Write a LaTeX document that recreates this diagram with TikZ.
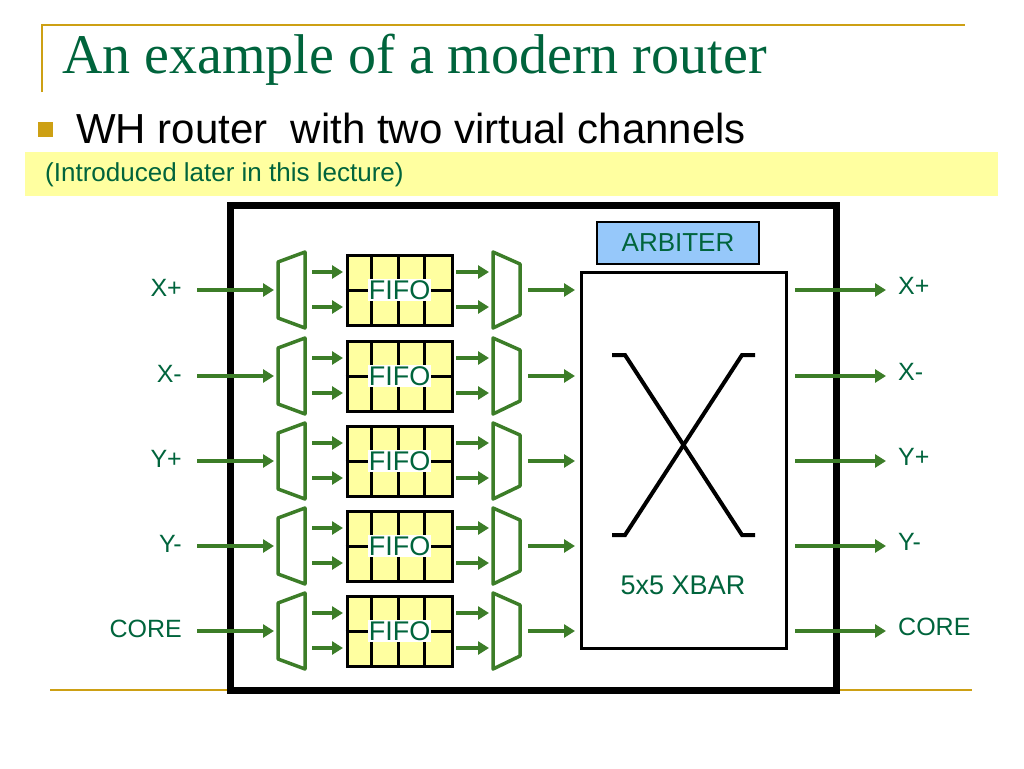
\documentclass[tikz,border=0pt]{standalone}
\usepackage{fontspec}
\setmainfont{Liberation Sans}
\newfontfamily\titlefont{Liberation Serif}
\usetikzlibrary{arrows.meta,calc}
\definecolor{ttgreen}{RGB}{0,100,60}
\definecolor{argreen}{RGB}{60,125,40}
\definecolor{gold}{RGB}{205,160,20}
\definecolor{fifoyel}{RGB}{255,255,160}
\definecolor{band}{RGB}{255,255,160}
\definecolor{arbblue}{RGB}{150,200,250}
\tikzset{
    arr/.style={draw=argreen,line width=3.5pt,-{Triangle[length=11pt,width=13pt]}},
    trap/.style={draw=argreen,line width=3.5pt,line join=round},
    lbl/.style={text=ttgreen,font=\fontsize{25}{25}\selectfont,inner sep=0pt},
    fifo/.style={draw=black,line width=3pt,fill=fifoyel},
}
\begin{document}
\begin{tikzpicture}[x=1pt,y=-1pt]
\useasboundingbox (0,0) rectangle (1024,768);
% header
\draw[gold,line width=2pt] (42,92) -- (42,25) -- (965,25);
\node[anchor=west,inner sep=0pt,text=ttgreen,font=\titlefont\fontsize{56}{56}\selectfont] (title) at (62,60) {An example of a modern router};
\fill[gold] (38,122) rectangle (53,137);
\node[anchor=west,inner sep=0pt,font=\fontsize{42}{42}\selectfont] (sub) at (76,128) {WH router\ \ with two virtual channels};
\fill[band] (25,152) rectangle (998,196);
\node[anchor=west,inner sep=0pt,text=ttgreen,font=\fontsize{26}{26}\selectfont] (note) at (45,175) {(Introduced later in this lecture)};
\draw[gold,line width=2pt] (50,690) -- (972,690);
% router box
\draw[line width=7pt,fill=white] (230,205) rectangle (836,690);
\node[draw,line width=2pt,fill=arbblue,minimum width=162pt,minimum height=42pt,inner sep=0pt,text=ttgreen,font=\fontsize{26}{26}\selectfont] (arb) at (678,243) {ARBITER};
\node[draw,line width=3pt,minimum width=205pt,minimum height=376pt] (xbar) at (683.5,460) {};
\node[lbl,font=\fontsize{27}{27}\selectfont] (xbarlbl) at (683,585) {5x5 XBAR};
\draw[line width=4pt] (612,355) -- (625,355) -- (742,535) -- (755,535);
\draw[line width=4pt] (755,355) -- (742,355) -- (625,535) -- (612,535);
% ports
\foreach \i/\lab/\y in {1/X+/290,2/X-/376,3/Y+/461,4/Y-/546,5/CORE/631}{
    \node[lbl,anchor=east] (in\i) at (182,\y-2) {\lab};
    \coordinate (ins\i) at (197,\y);
    \coordinate (ine\i) at (274,\y);
    \draw[trap] (278,\y-28) -- (305,\y-38) -- (305,\y+38) -- (278,\y+28) -- cycle;
    \draw[trap] (493,\y-38) -- (520,\y-26) -- (520,\y+25) -- (493,\y+38) -- cycle;
    \node[fifo,minimum width=105pt,minimum height=70pt,inner sep=0pt] (f\i) at (399.5,\y) {};
    \foreach \c in {1,2,3} \draw[line width=3pt] ($(f\i.west)+(\c*26.25,-35)$) -- ++(0,70);
    \draw[line width=3pt] (f\i.west) -- (f\i.east);
    \node[fill=white,inner sep=1pt,text=ttgreen,font=\fontsize{27}{27}\selectfont] (fl\i) at (f\i) {FIFO};
    \draw[arr] (ins\i) -- (ine\i);
    \draw[arr] (312,\y-18) -- (343,\y-18);
    \draw[arr] (312,\y+17) -- (343,\y+17);
    \draw[arr] (456,\y-18) -- (489,\y-18);
    \draw[arr] (456,\y+17) -- (489,\y+17);
    \draw[arr] (528,\y) -- (575,\y);
    \draw[arr] (795,\y) -- (886,\y);
    \node[lbl,anchor=west] (out\i) at (898,\y-4) {\lab};
}
\end{tikzpicture}
\end{document}
